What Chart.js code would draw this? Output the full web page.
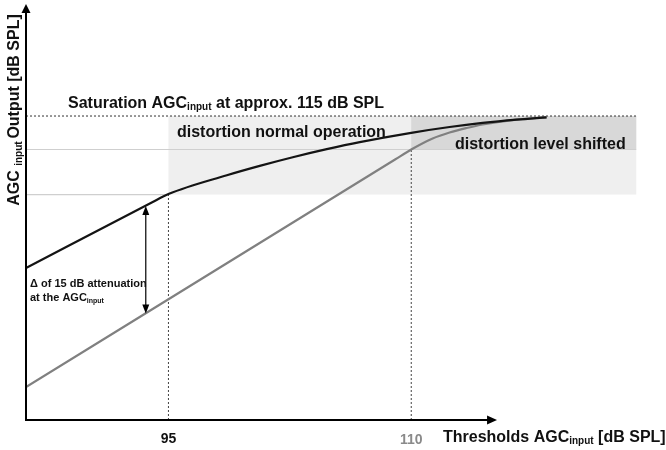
<!DOCTYPE html>
<html>
<head>
<meta charset="utf-8">
<script src="https://cdn.jsdelivr.net/npm/chart.js@4.4.1/dist/chart.umd.min.js"></script>
<style>
  html, body { margin: 0; padding: 0; background: #fff; }
  #wrap { width: 666px; height: 450px; }
</style>
</head>
<body>
<div id="wrap"><canvas id="Chart"></canvas></div>
<script>
// input level (x) vs AGC output level (y), both in dB SPL
var normalX = [86.2, 94, 95, 98.61, 100.64, 102.68, 104.78, 106.82, 110, 112.37, 114.41, 116.51, 118.36];
var normalY = [93.89, 103.04, 104.17, 106.78, 108.08, 109.28, 110.40, 111.38, 112.67, 113.47, 114.04, 114.50, 114.82];
var shiftedX = [86.2, 109, 110, 111.32, 112.37, 113.42, 114.41, 116.51, 118.36];
var shiftedY = [77.36, 108.96, 110.35, 111.88, 112.71, 113.33, 113.82, 114.51, 114.82];

var xTicks = [95, 110];
var xTickColors = ['#111111', '#8a8a8a'];

var satLevel = 115;       // saturation of the AGC input
var shiftLevel = 110.35;  // distortion level, shifted
var normalLevel = 104.1;  // distortion level, normal operation
var regionEnd = 123.9;
var xAxisEnd = 115.3;

// the 15 dB attenuation arrow
var deltaX = 93.6;
var deltaTop = 102.5;
var deltaBottom = 87.6;

var xMin = 86.2, xMax = 124.75, yMin = 72.8, yMax = 130.55;

function pts(xs, ys) {
  return xs.map(function (x, i) { return { x: x, y: ys[i] }; });
}

var FONT = '"Liberation Sans", Arial, sans-serif';

// draws text pieces in a row, small pieces dropped as subscript
function richText(ctx, parts, x, y, align) {
  var total = 0;
  parts.forEach(function (p) {
    ctx.font = 'bold ' + p.size + 'px ' + FONT;
    p.w = ctx.measureText(p.t).width;
    total += p.w;
  });
  var cx = align === 'center' ? x - total / 2 : x;
  ctx.textBaseline = 'alphabetic';
  ctx.textAlign = 'left';
  parts.forEach(function (p) {
    ctx.font = 'bold ' + p.size + 'px ' + FONT;
    ctx.fillStyle = p.color || '#111';
    ctx.fillText(p.t, cx, y + (p.dy || 0));
    cx += p.w;
  });
}

function arrowHead(ctx, x, y, dir, len, half) {
  ctx.beginPath();
  if (dir === 'up') { ctx.moveTo(x, y); ctx.lineTo(x - half, y + len); ctx.lineTo(x + half, y + len); }
  if (dir === 'down') { ctx.moveTo(x, y); ctx.lineTo(x - half, y - len); ctx.lineTo(x + half, y - len); }
  if (dir === 'right') { ctx.moveTo(x, y); ctx.lineTo(x - len, y - half); ctx.lineTo(x - len, y + half); }
  ctx.closePath();
  ctx.fill();
}

var schemePlugin = {
  id: 'scheme',
  beforeDatasetsDraw: function (chart) {
    var ctx = chart.ctx, xs = chart.scales.x, ys = chart.scales.y;
    ctx.save();
    ctx.fillStyle = '#efefef';
    ctx.fillRect(xs.getPixelForValue(95), ys.getPixelForValue(satLevel),
      xs.getPixelForValue(regionEnd) - xs.getPixelForValue(95),
      ys.getPixelForValue(normalLevel) - ys.getPixelForValue(satLevel));
    ctx.fillStyle = '#d8d8d8';
    ctx.fillRect(xs.getPixelForValue(110), ys.getPixelForValue(satLevel),
      xs.getPixelForValue(regionEnd) - xs.getPixelForValue(110),
      ys.getPixelForValue(shiftLevel) - ys.getPixelForValue(satLevel));
    ctx.restore();
  },
  afterDatasetsDraw: function (chart) {
    var ctx = chart.ctx, xs = chart.scales.x, ys = chart.scales.y;
    var left = xs.getPixelForValue(xMin), bottom = ys.getPixelForValue(yMin);
    var top = ys.getPixelForValue(yMax), right = xs.getPixelForValue(xAxisEnd);
    ctx.save();
    // axes
    ctx.strokeStyle = '#000';
    ctx.fillStyle = '#000';
    ctx.lineWidth = 2;
    ctx.beginPath();
    ctx.moveTo(left, top + 6); ctx.lineTo(left, bottom);
    ctx.lineTo(right - 6, bottom);
    ctx.stroke();
    arrowHead(ctx, left, top, 'up', 9, 4.5);
    arrowHead(ctx, right, bottom, 'right', 10, 4.5);

    // attenuation arrow
    var ax = xs.getPixelForValue(deltaX);
    var at = ys.getPixelForValue(deltaTop), ab = ys.getPixelForValue(deltaBottom);
    ctx.lineWidth = 1.2;
    ctx.beginPath();
    ctx.moveTo(ax, at + 6); ctx.lineTo(ax, ab - 6);
    ctx.stroke();
    arrowHead(ctx, ax, at, 'up', 9, 3.5);
    arrowHead(ctx, ax, ab, 'down', 9, 3.5);

    // x tick labels
    xTicks.forEach(function (v, i) {
      ctx.font = 'bold 14px ' + FONT;
      ctx.fillStyle = xTickColors[i];
      ctx.textAlign = 'center';
      ctx.textBaseline = 'middle';
      ctx.fillText(String(v), xs.getPixelForValue(v), 439 + i);
    });

    richText(ctx, [
      { t: 'Thresholds AGC', size: 16 },
      { t: 'input', size: 10, dy: 2 },
      { t: ' [dB SPL]', size: 16 }
    ], 443, 442, 'left');

    richText(ctx, [
      { t: 'Saturation AGC', size: 16 },
      { t: 'input', size: 10, dy: 2 },
      { t: ' at approx. 115 dB SPL', size: 16 }
    ], 68, 108, 'left');

    richText(ctx, [{ t: 'distortion normal operation', size: 16 }], 177, 137, 'left');
    richText(ctx, [{ t: 'distortion level shifted', size: 16 }], 455, 149, 'left');

    richText(ctx, [{ t: '\u0394 of 15 dB attenuation', size: 11 }], 30, 287, 'left');
    richText(ctx, [
      { t: 'at the AGC', size: 11 },
      { t: 'input', size: 7, dy: 2 }
    ], 30, 301, 'left');

    // y axis title
    ctx.translate(19, 110);
    ctx.rotate(-Math.PI / 2);
    richText(ctx, [
      { t: 'AGC ', size: 16 },
      { t: 'input ', size: 10, dy: 3 },
      { t: 'Output [dB SPL]', size: 16 }
    ], 0, 0, 'center');
    ctx.restore();
  }
};

var ctx = document.getElementById('Chart').getContext('2d');

var myChart = new Chart(ctx, {
  type: 'line',
  data: {
    datasets: [
      {
        label: 'normal operation',
        data: pts(normalX, normalY),
        borderColor: '#141414',
        borderWidth: 2.2,
        cubicInterpolationMode: 'monotone',
        pointRadius: 0,
        order: 1
      },
      {
        label: 'shifted',
        data: pts(shiftedX, shiftedY),
        borderColor: '#808080',
        borderWidth: 2.2,
        cubicInterpolationMode: 'monotone',
        pointRadius: 0,
        order: 2
      },
      {
        label: 'saturation',
        data: pts([xMin, regionEnd], [satLevel, satLevel]),
        borderColor: '#333',
        borderWidth: 1,
        borderDash: [2, 2],
        pointRadius: 0,
        order: 3
      },
      {
        label: 'shifted level',
        data: pts([xMin, regionEnd], [shiftLevel, shiftLevel]),
        borderColor: '#cfcfcf',
        borderWidth: 1.2,
        pointRadius: 0,
        order: 4
      },
      {
        label: 'normal level',
        data: pts([xMin, 95], [normalLevel, normalLevel]),
        borderColor: '#cfcfcf',
        borderWidth: 1.2,
        pointRadius: 0,
        order: 4
      },
      {
        label: 'knee 95',
        data: pts([95, 95], [yMin, normalLevel]),
        borderColor: '#444',
        borderWidth: 1,
        borderDash: [2, 2],
        pointRadius: 0,
        order: 3
      },
      {
        label: 'knee 110',
        data: pts([110, 110], [yMin, shiftLevel]),
        borderColor: '#444',
        borderWidth: 1,
        borderDash: [2, 2],
        pointRadius: 0,
        order: 3
      }
    ]
  },
  options: {
    responsive: true,
    maintainAspectRatio: false,
    animation: false,
    layout: { padding: { left: 26, right: 16, top: 4, bottom: 30 } },
    plugins: {
      legend: { display: false },
      tooltip: { enabled: false },
      title: { display: false }
    },
    scales: {
      x: { type: 'linear', min: xMin, max: xMax, display: false },
      y: { type: 'linear', min: yMin, max: yMax, display: false }
    }
  },
  plugins: [schemePlugin]
});
</script>
</body>
</html>
